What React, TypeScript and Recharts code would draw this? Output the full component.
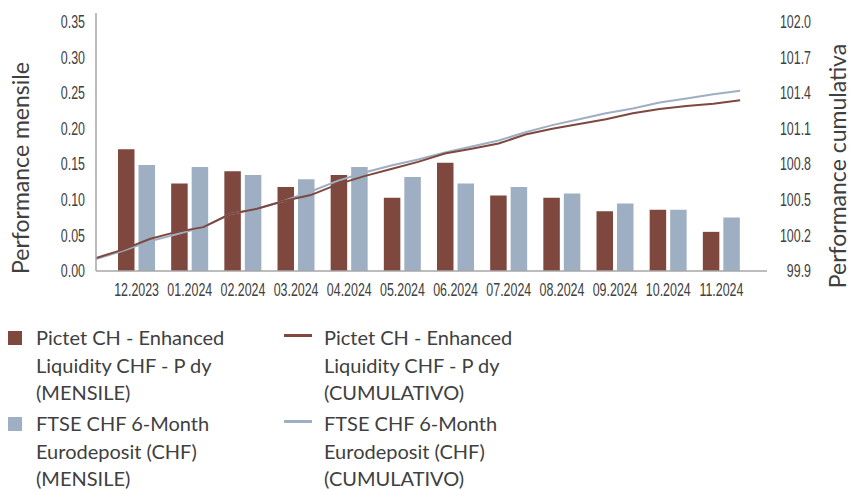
import { ComposedChart, Bar, Line, XAxis, YAxis } from 'recharts';

const months = ['12.2023', '01.2024', '02.2024', '03.2024', '04.2024', '05.2024', '06.2024', '07.2024', '08.2024', '09.2024', '10.2024', '11.2024'];
const fundMonthly = [0.171, 0.123, 0.140, 0.118, 0.135, 0.103, 0.152, 0.106, 0.103, 0.084, 0.086, 0.055];
const benchMonthly = [0.149, 0.146, 0.135, 0.129, 0.146, 0.132, 0.123, 0.118, 0.109, 0.095, 0.086, 0.075];

// cumulative series, one reading every half month
const halfMonths = [0, 1, 2, 3, 4, 5, 6, 7, 8, 9, 10, 11, 12, 13, 14, 15, 16, 17, 18, 19, 20, 21, 22, 23, 24];
const fundCum = [100.01, 100.08, 100.17, 100.23, 100.27, 100.38, 100.425, 100.49, 100.54, 100.63, 100.70, 100.76, 100.82, 100.89, 100.93, 100.975, 101.05, 101.10, 101.14, 101.18, 101.23, 101.265, 101.29, 101.31, 101.34];
const benchCum = [100.0, 100.07, 100.15, 100.21, 100.27, 100.38, 100.425, 100.49, 100.57, 100.66, 100.73, 100.79, 100.84, 100.90, 100.95, 101.0, 101.07, 101.13, 101.18, 101.23, 101.27, 101.32, 101.355, 101.39, 101.42];

const leftTicks = [0, 0.05, 0.1, 0.15, 0.2, 0.25, 0.3, 0.35];
const rightTicks = [99.9, 100.2, 100.5, 100.8, 101.1, 101.4, 101.7, 102.0];

const barData = months.map((m, i) => ({ month: m, fund: fundMonthly[i], bench: benchMonthly[i] }));
const fundLine = halfMonths.map((t, i) => ({ t, v: fundCum[i] }));
const benchLine = halfMonths.map((t, i) => ({ t, v: benchCum[i] }));

const BROWN = '#7e483f';
const BLUE = '#9eafc3';
const TEXT = '#404040';
const AXIS = '#a6a6a6';
const tickFont = '"Liberation Sans", Arial, sans-serif';
const labelFont = 'Lato, "Open Sans", sans-serif';

// horizontally squeezed text, to look like the condensed face of the original
const CondensedText = ({ x, y, label, anchor, dy }: any) => (
  <g transform={`translate(${x},${y}) scale(0.71,1)`}>
    <text x={0} y={0} dy={dy} textAnchor={anchor} fill={TEXT} fontSize={17.5} fontFamily={tickFont}>
      {label}
    </text>
  </g>
);

const MonthTick = (props: any) => (
  <CondensedText x={props.x} y={props.y} dy="0.71em" anchor="middle" label={String(props.payload.value)} />
);
const LeftTick = (props: any) => (
  <CondensedText x={85} y={props.y} dy="0.35em" anchor="end" label={Number(props.payload.value).toFixed(2)} />
);
const RightTick = (props: any) => (
  <CondensedText x={811} y={props.y} dy="0.35em" anchor="end" label={Number(props.payload.value).toFixed(1)} />
);

const legendItems = [
  { kind: 'bar', color: BROWN, lines: ['Pictet CH - Enhanced', 'Liquidity CHF - P dy', '(MENSILE)'], left: 8, top: 324 },
  { kind: 'line', color: BROWN, lines: ['Pictet CH - Enhanced', 'Liquidity CHF - P dy', '(CUMULATIVO)'], left: 284, top: 324 },
  { kind: 'bar', color: BLUE, lines: ['FTSE CHF 6-Month', 'Eurodeposit (CHF)', '(MENSILE)'], left: 8, top: 410 },
  { kind: 'line', color: BLUE, lines: ['FTSE CHF 6-Month', 'Eurodeposit (CHF)', '(CUMULATIVO)'], left: 284, top: 410 },
];

export default function App() {
  return (
    <div style={{ position: 'absolute', left: 0, top: 0, width: 851, height: 491, background: '#fff', fontFamily: labelFont, overflow: 'hidden' }}>
      <ComposedChart width={851} height={491} data={barData} margin={{ top: 13, right: 0, bottom: 190, left: 0 }}>
        <XAxis
          xAxisId="cat"
          dataKey="month"
          padding={{ left: 14, right: 19 }}
          stroke={AXIS}
          strokeWidth={1.5}
          tickLine={false}
          tickSize={6}
          tickMargin={7}
          height={30}
          interval={0}
          tick={<MonthTick />}
        />
        <XAxis xAxisId="t" type="number" dataKey="t" domain={[0, 25]} allowDataOverflow hide />
        <YAxis
          yAxisId="left"
          orientation="left"
          width={96}
          domain={[0, 0.3625]}
          ticks={leftTicks}
          allowDataOverflow
          stroke={AXIS}
          strokeWidth={1.5}
          tickLine={false}
          tick={<LeftTick />}
        />
        <YAxis
          yAxisId="right"
          orientation="right"
          width={84}
          domain={[99.9, 102.075]}
          ticks={rightTicks}
          allowDataOverflow
          axisLine={false}
          tickLine={false}
          tick={<RightTick />}
        />
        <Bar xAxisId="cat" yAxisId="left" dataKey="fund" fill={BROWN} barSize={16.5} isAnimationActive={false} />
        <Bar xAxisId="cat" yAxisId="left" dataKey="bench" fill={BLUE} barSize={16.5} isAnimationActive={false} />
        <Line xAxisId="t" yAxisId="right" data={benchLine} dataKey="v" type="linear" stroke={BLUE} strokeWidth={2} dot={false} isAnimationActive={false} />
        <Line xAxisId="t" yAxisId="right" data={fundLine} dataKey="v" type="linear" stroke={BROWN} strokeWidth={2} dot={false} isAnimationActive={false} />
      </ComposedChart>

      <div style={{ position: 'absolute', left: 20, top: 168, transform: 'translate(-50%, -50%) rotate(-90deg)', whiteSpace: 'nowrap', fontSize: 23, lineHeight: '22px', color: TEXT }}>
        Performance mensile
      </div>
      <div style={{ position: 'absolute', left: 837, top: 166, transform: 'translate(-50%, -50%) rotate(-90deg)', whiteSpace: 'nowrap', fontSize: 23, lineHeight: '20px', color: TEXT }}>
        Performance cumulativa
      </div>

      {legendItems.map((item, i) => (
        <div key={i} style={{ position: 'absolute', left: item.left, top: item.top }}>
          {item.kind === 'bar' ? (
            <div style={{ position: 'absolute', left: 0, top: 7, width: 14, height: 14, background: item.color }} />
          ) : (
            <div style={{ position: 'absolute', left: 0, top: 10, width: 28, height: 3, background: item.color }} />
          )}
          <div style={{ position: 'absolute', left: item.kind === 'bar' ? 28 : 40, top: 0, fontSize: 20, lineHeight: '27.7px', color: TEXT, whiteSpace: 'nowrap' }}>
            {item.lines.map((l, j) => (
              <div key={j}>{l}</div>
            ))}
          </div>
        </div>
      ))}
    </div>
  );
}
